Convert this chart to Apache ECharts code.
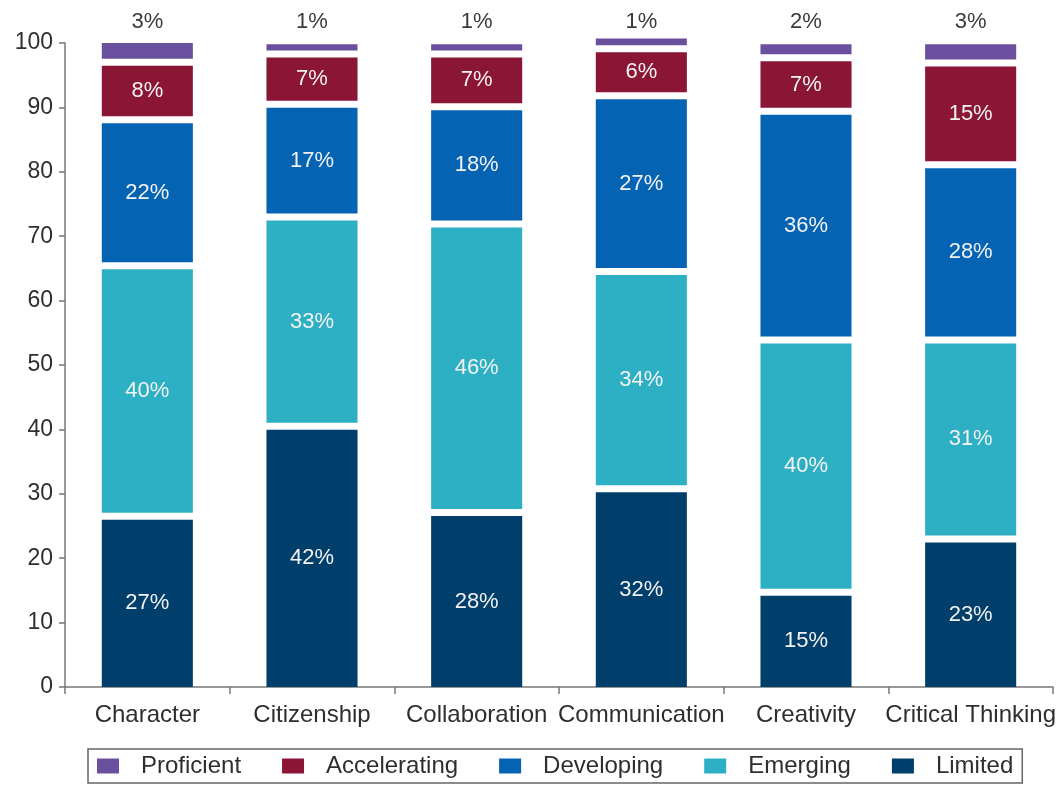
<!DOCTYPE html>
<html>
<head>
<meta charset="utf-8">
<script src="https://cdn.jsdelivr.net/npm/echarts@6/dist/echarts.min.js"></script>
<style>
  html, body { margin: 0; padding: 0; background: #ffffff; }
  #chart { width: 1063px; height: 787px; }
</style>
</head>
<body>
<div id="chart"></div>
<script>
// Categories
const categories = ['Character', 'Citizenship', 'Collaboration', 'Communication', 'Creativity', 'Critical Thinking'];
const seriesNames = ['Limited', 'Emerging', 'Developing', 'Accelerating', 'Proficient'];
const legendOrder = ['Proficient', 'Accelerating', 'Developing', 'Emerging', 'Limited'];

// Segment heights as drawn
const limited      = [26.5, 40.5, 27.1, 30.8, 14.7, 23.0];
const emerging     = [38.9, 32.5, 44.8, 33.7, 39.2, 30.9];
const developing   = [22.7, 17.5, 18.2, 27.3, 35.5, 27.2];
const accelerating = [ 8.9,  7.8,  8.2,  7.3,  8.3, 15.8];
const proficient   = [ 3.0,  1.5,  1.5,  1.6,  2.1,  2.9];

// Percentage labels printed on the chart
const limitedPct      = [27, 42, 28, 32, 15, 23];
const emergingPct     = [40, 33, 46, 34, 40, 31];
const developingPct   = [22, 17, 18, 27, 36, 28];
const acceleratingPct = [8, 7, 7, 6, 7, 15];
const proficientPct   = [3, 1, 1, 1, 2, 3];

// Y axis ticks
const yMin = 0, yMax = 100, yInterval = 10;

const colors = {
  Limited: '#003e6b',
  Emerging: '#2eb0c4',
  Developing: '#0563b3',
  Accelerating: '#8a1535',
  Proficient: '#6a4f9e'
};

const FONT = '"Liberation Sans", Arial, sans-serif';
const values = [limited, emerging, developing, accelerating, proficient];
const pcts = [limitedPct, emergingPct, developingPct, acceleratingPct, proficientPct];

const base = categories.map(() => 0);
const series = seriesNames.map((name, k) => {
  const data = categories.map((c, i) => {
    const start = base[i];
    const end = start + values[k][i];
    base[i] = end;
    return [i, start, end, pcts[k][i]];
  });
  const isTop = k === seriesNames.length - 1;
  return {
    name: name,
    type: 'custom',
    itemStyle: { color: colors[name] },
    encode: { x: 0, y: [1, 2] },
    data: data,
    renderItem: function (params, api) {
      const cat = api.value(0), start = api.value(1), end = api.value(2), pct = api.value(3);
      const p0 = api.coord([cat, start]);
      const p1 = api.coord([cat, end]);
      const bw = api.size([1, 0])[0] * 0.553;
      const gap = 3.5;
      const yBottom = p0[1] - (start > 0 ? gap : 0);
      const yTop = p1[1] + (isTop ? 0 : gap);
      const children = [{
        type: 'rect',
        shape: { x: p0[0] - bw / 2, y: yTop, width: bw, height: Math.max(0, yBottom - yTop) },
        style: { fill: colors[name] }
      }];
      if (isTop) {
        const yRef = api.coord([cat, yMax])[1];
        children.push({
          type: 'text',
          style: {
            text: pct + '%', x: p0[0], y: yRef - 21,
            align: 'center', verticalAlign: 'middle',
            fill: '#3a3a3a', fontSize: 22, fontFamily: FONT
          }
        });
      } else {
        children.push({
          type: 'text',
          style: {
            text: pct + '%', x: p0[0], y: (yTop + yBottom) / 2,
            align: 'center', verticalAlign: 'middle',
            fill: '#f2f2f2', fontSize: 22, fontFamily: FONT
          }
        });
      }
      return { type: 'group', children: children };
    }
  };
});

const chart = echarts.init(document.getElementById('chart'), null, { renderer: 'canvas' });
chart.setOption({
  animation: false,
  backgroundColor: '#ffffff',
  textStyle: { fontFamily: FONT },
  grid: { left: 65, right: 10, top: 43, bottom: 100, containLabel: false },
  xAxis: {
    type: 'category',
    data: categories,
    boundaryGap: true,
    axisLine: { lineStyle: { color: '#777777', width: 1.5 } },
    axisTick: { show: true, length: 7, lineStyle: { color: '#777777', width: 1.5 } },
    axisLabel: { color: '#2e2e2e', fontSize: 24, fontFamily: FONT, margin: 16, interval: 0 },
    splitLine: { show: false }
  },
  yAxis: {
    type: 'value',
    min: yMin, max: yMax, interval: yInterval,
    axisLine: { show: true, lineStyle: { color: '#777777', width: 1.5 } },
    axisTick: { show: true, length: 6, lineStyle: { color: '#777777', width: 1.5 } },
    axisLabel: { color: '#2e2e2e', fontSize: 23, fontFamily: FONT, margin: 12 },
    splitLine: { show: false }
  },
  legend: {
    data: legendOrder,
    left: 88,
    top: 749,
    orient: 'horizontal',
    icon: 'rect',
    itemWidth: 22,
    itemHeight: 15,
    itemGap: 41,
    padding: [5, 9, 5, 9],
    borderColor: '#666666',
    borderWidth: 1.5,
    textStyle: { color: '#2e2e2e', fontSize: 24, fontFamily: FONT, padding: [0, 0, 0, 17] }
  },
  series: series
});
</script>
</body>
</html>
